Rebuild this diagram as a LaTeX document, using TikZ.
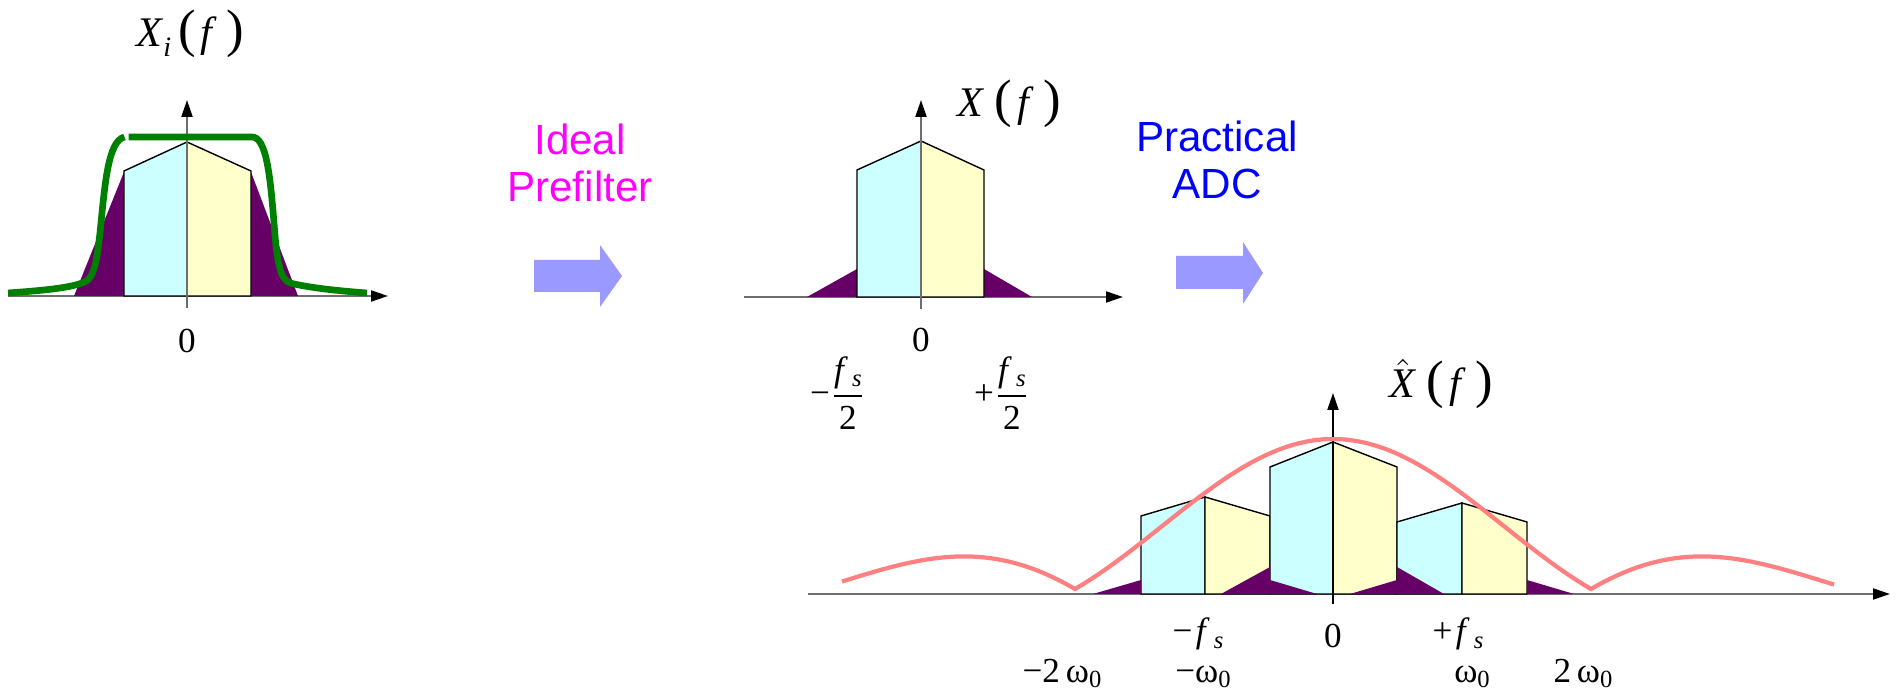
\documentclass[tikz,border=0pt]{standalone}
\usepackage{fontspec}
\setmainfont{Liberation Serif}
\newfontfamily\arialfont{Liberation Sans}
\usepackage{xcolor}
\definecolor{AxisGray}{HTML}{6E6E6E}
\definecolor{BandCyan}{HTML}{CCFFFF}
\definecolor{BandYellow}{HTML}{FFFFCC}
\definecolor{AliasPurple}{HTML}{660066}
\definecolor{FilterGreen}{HTML}{008000}
\definecolor{SincRed}{HTML}{FF8080}
\definecolor{ArrowBlue}{HTML}{9999FF}
\definecolor{LabelMagenta}{HTML}{FF00FF}
\definecolor{LabelBlue}{HTML}{0000FF}
\usepackage{tikz}
\usetikzlibrary{arrows.meta}

\newcommand{\bigpar}[1]{{\fontsize{15}{15}\selectfont #1}}
\newcommand{\lowsub}[3]{\raisebox{-#2}{\fontsize{#1}{#1}\selectfont #3}}

\begin{document}
\begin{tikzpicture}[>={Triangle[length=1.7mm, width=1.1mm, color=black]},
  axis/.style={AxisGray, line width=0.6pt, ->},
  band/.style={draw=black, line width=0.4pt},
  lbl/.style={anchor=base, font=\fontsize{10}{11}\selectfont},
  title/.style={anchor=base, font=\fontsize{12}{14}\selectfont}]
  \useasboundingbox (0,0) rectangle (18.98,6.93);

  % units: 1 cm = 100 px of the sketch
  \def\sinc#1{1.04+1.5*abs(sin(180*(#1-13.3301)/2.58)/(pi*(#1-13.3301)/2.58))}

  % ---------- input spectrum X_i(f) ----------
  \draw[axis] (0.08,3.97) -- (3.88,3.97);
  \fill[AliasPurple] (0.74,3.97) -- (1.24,5.21) -- (1.24,3.97) -- cycle;
  \fill[AliasPurple] (2.51,5.21) -- (2.98,3.97) -- (2.51,3.97) -- cycle;
  \filldraw[band, fill=BandCyan] (1.24,3.97) -- (1.24,5.22) -- (1.87,5.51) -- (1.87,3.97) -- cycle;
  \filldraw[band, fill=BandYellow] (1.87,3.97) -- (1.87,5.51) -- (2.51,5.22) -- (2.51,3.97) -- cycle;
  \draw[axis] (1.87,3.85) -- (1.87,5.93);
  % anti-aliasing prefilter response
  \draw[FilterGreen, line width=1.9pt]
    (0.08,4.00) .. controls (0.50,4.03) and (0.78,4.06) .. (0.88,4.13)
    .. controls (0.95,4.20) and (0.97,4.35) .. (1.00,4.60)
    .. controls (1.05,5.10) and (1.08,5.52) .. (1.245,5.56);
  \draw[FilterGreen, line width=1.9pt]
    (1.285,5.56) -- (2.52,5.56)
    .. controls (2.66,5.56) and (2.70,5.20) .. (2.74,4.70)
    .. controls (2.77,4.30) and (2.80,4.14) .. (2.90,4.10)
    .. controls (3.10,4.05) and (3.40,4.02) .. (3.67,4.00);
  \node[title] (xi) at (1.90,6.46)
    {\textit{X}\lowsub{8}{2.8pt}{\textit{i}}\hspace{2pt}\bigpar{(}\hspace{1.5pt}\textit{f}\hspace{2.5pt}\bigpar{)}};
  \node[lbl] (zeroA) at (1.87,3.40) {0};

  % ---------- first block arrow ----------
  \fill[ArrowBlue] (5.34,4.01) -- (5.34,4.33) -- (6.00,4.33) -- (6.00,4.48)
    -- (6.22,4.17) -- (6.00,3.86) -- (6.00,4.01) -- cycle;
  \node[font={\arialfont\fontsize{12}{13.3}\selectfont}, LabelMagenta, align=center]
    (prefilter) at (5.80,5.30) {Ideal\\Prefilter};

  % ---------- band-limited spectrum X(f) ----------
  \draw[axis] (7.44,3.96) -- (11.23,3.96);
  \fill[AliasPurple] (8.07,3.96) -- (8.57,4.24) -- (8.57,3.96) -- cycle;
  \fill[AliasPurple] (9.84,4.24) -- (10.32,3.96) -- (9.84,3.96) -- cycle;
  \filldraw[band, fill=BandCyan] (8.57,3.96) -- (8.57,5.23) -- (9.21,5.52) -- (9.21,3.96) -- cycle;
  \filldraw[band, fill=BandYellow] (9.21,3.96) -- (9.21,5.52) -- (9.84,5.23) -- (9.84,3.96) -- cycle;
  \draw[axis] (9.21,3.84) -- (9.21,5.93);
  \node[title] (xf) at (10.09,5.76)
    {\textit{X}\hspace{3pt}\bigpar{(}\hspace{1.5pt}\textit{f}\hspace{2.5pt}\bigpar{)}};
  \node[lbl] (zeroB) at (9.21,3.41) {0};
  \node[lbl] (mhalf) at (8.38,2.88)
    {−$\displaystyle\frac{\mbox{\textit{f}\lowsub{7}{1.5pt}{\,\textit{s}}}}{\mbox{2}}$};
  \node[lbl] (phalf) at (10.02,2.88)
    {+$\displaystyle\frac{\mbox{\textit{f}\lowsub{7}{1.5pt}{\,\textit{s}}}}{\mbox{2}}$};

  % ---------- second block arrow ----------
  \fill[ArrowBlue] (11.76,4.04) -- (11.76,4.37) -- (12.43,4.37) -- (12.43,4.51)
    -- (12.63,4.20) -- (12.43,3.89) -- (12.43,4.04) -- cycle;
  \node[font={\arialfont\fontsize{12}{13.3}\selectfont}, LabelBlue, align=center]
    (adc) at (12.17,5.33) {Practical\\ADC};

  % ---------- sampled spectrum ----------
  \draw[axis] (8.08,0.99) -- (18.90,0.99);
  % replica at -fs
  \filldraw[band, fill=BandCyan] (11.41,0.99) -- (11.41,1.77) -- (12.05,1.96) -- (12.05,0.99) -- cycle;
  \filldraw[band, fill=BandYellow] (12.05,0.99) -- (12.05,1.96) -- (12.70,1.77) -- (12.70,0.99) -- cycle;
  % baseband
  \filldraw[band, fill=BandCyan] (12.70,0.99) -- (12.70,2.26) -- (13.33,2.51) -- (13.33,0.99) -- cycle;
  \filldraw[band, fill=BandYellow] (13.33,0.99) -- (13.33,2.51) -- (13.97,2.26) -- (13.97,0.99) -- cycle;
  % replica at +fs
  \filldraw[band, fill=BandCyan] (13.97,0.99) -- (13.97,1.71) -- (14.62,1.90) -- (14.62,0.99) -- cycle;
  \filldraw[band, fill=BandYellow] (14.62,0.99) -- (14.62,1.90) -- (15.27,1.71) -- (15.27,0.99) -- cycle;
  % aliased tails
  \fill[AliasPurple] (10.93,0.99) -- (11.41,1.13) -- (11.41,0.99) -- cycle;
  \fill[AliasPurple] (12.70,1.13) -- (13.17,0.99) -- (12.70,0.99) -- cycle;
  \fill[AliasPurple] (12.21,0.99) -- (12.70,1.26) -- (12.70,0.99) -- cycle;
  \fill[AliasPurple] (13.97,1.26) -- (14.44,0.99) -- (13.97,0.99) -- cycle;
  \fill[AliasPurple] (13.50,0.99) -- (13.97,1.13) -- (13.97,0.99) -- cycle;
  \fill[AliasPurple] (15.27,1.13) -- (15.74,0.99) -- (15.27,0.99) -- cycle;
  \draw[axis, black] (13.33,0.89) -- (13.33,3.00);
  % zero-order hold envelope
  \draw[SincRed, line width=1.2pt]
    plot[domain=8.42:10.75, samples=60] (\x, {\sinc{\x}})
    -- plot[domain=10.75:15.91, samples=120] (\x, {\sinc{\x}})
    -- plot[domain=15.91:18.34, samples=60] (\x, {\sinc{\x}});
  \node[title] (xhat) at (14.41,2.95)
    {$\hat{\mbox{\textit{X}}}$\hspace{3pt}\bigpar{(}\hspace{1.5pt}\textit{f}\hspace{2.5pt}\bigpar{)}};

  % frequency labels
  \node[lbl] (mfs) at (11.98,0.50) {−\hspace{1pt}\textit{f}\lowsub{7}{1.7pt}{\,\textit{s}}};
  \node[lbl] (zeroC) at (13.33,0.45) {0};
  \node[lbl] (pfs) at (14.58,0.50) {+\hspace{1pt}\textit{f}\lowsub{7}{1.7pt}{\,\textit{s}}};
  \node[lbl] (mtwo) at (10.62,0.10) {−2\,ω\lowsub{7}{1.4pt}{0}};
  \node[lbl] (mone) at (12.03,0.10) {−ω\lowsub{7}{1.4pt}{0}};
  \node[lbl] (pone) at (14.72,0.10) {ω\lowsub{7}{1.4pt}{0}};
  \node[lbl] (ptwo) at (15.83,0.10) {2\,ω\lowsub{7}{1.4pt}{0}};
\end{tikzpicture}
\end{document}
